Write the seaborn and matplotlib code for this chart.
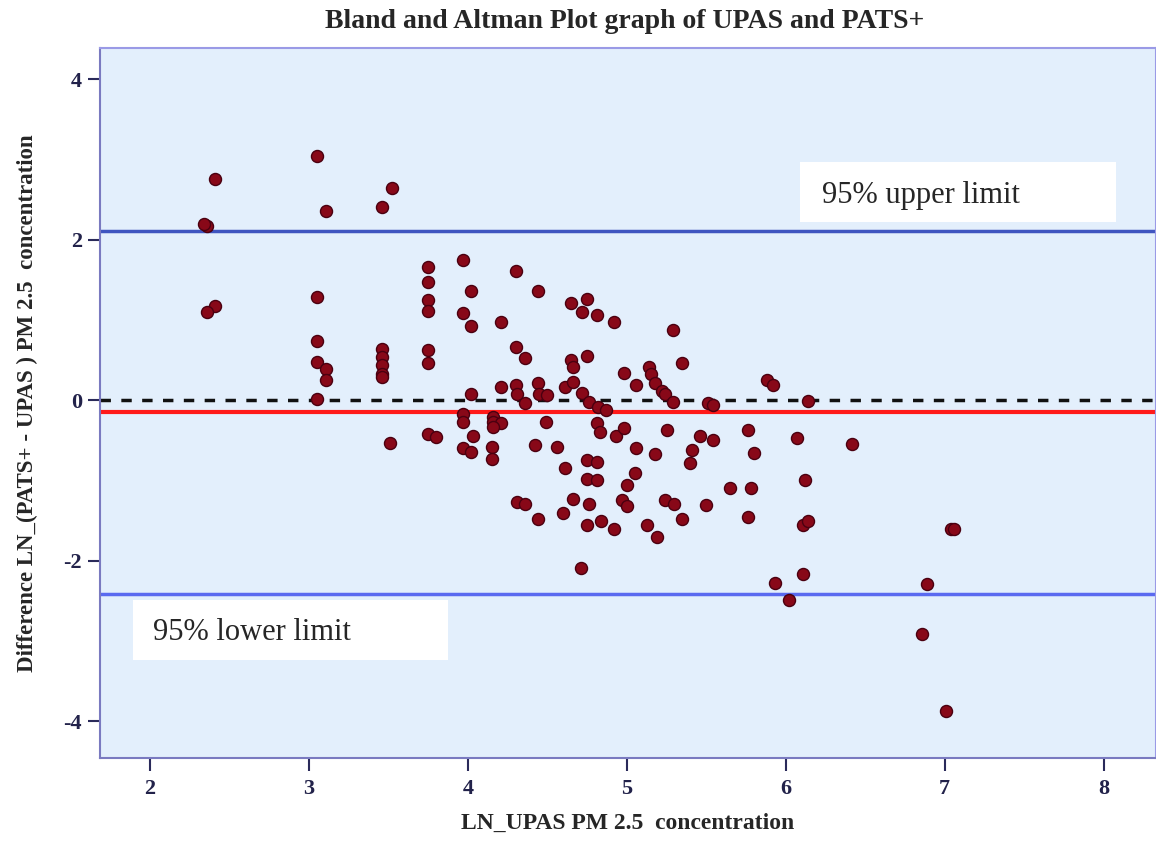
import numpy as np
import pandas as pd
import matplotlib
matplotlib.use('Agg')
import matplotlib.pyplot as plt
from matplotlib.patches import Rectangle
import seaborn as sns

# ---------------- data ----------------
ln_upas = [2.36, 2.34, 2.41, 3.05, 3.52, 3.46, 3.11, 3.75, 3.97, 3.75,
           3.75, 3.75, 4.02, 3.97, 4.02, 3.05, 2.41, 2.36, 3.05, 3.05,
           3.11, 3.11, 3.05, 3.46, 3.46, 3.46, 3.46, 3.46, 3.75, 3.75,
           4.02, 3.51, 3.75, 3.80, 3.97, 3.97, 4.03, 3.97, 4.02, 4.16,
           4.16, 4.21, 4.16, 4.15, 4.15, 4.21, 4.30, 4.44, 4.30, 4.36,
           4.21, 4.30, 4.31, 4.36, 4.44, 4.45, 4.50, 4.49, 4.42, 4.56,
           4.31, 4.36, 4.44, 4.61, 4.60, 4.66, 4.65, 4.75, 4.72, 4.81,
           4.92, 4.65, 4.66, 4.75, 4.61, 4.66, 4.72, 4.76, 4.82, 4.87,
           4.81, 4.83, 4.93, 4.98, 4.75, 4.81, 4.75, 4.81, 4.76, 4.75,
           4.84, 4.92, 4.71, 4.98, 5.06, 5.14, 5.15, 5.18, 5.22, 5.24,
           5.29, 5.29, 5.35, 5.51, 5.54, 5.88, 5.92, 5.25, 5.06, 5.18,
           5.05, 5.00, 4.97, 5.00, 5.13, 5.19, 5.24, 5.30, 5.35, 5.41,
           5.40, 5.46, 5.54, 5.50, 5.65, 5.76, 5.80, 5.78, 5.76, 5.93,
           6.14, 6.07, 6.42, 6.12, 6.11, 6.14, 7.04, 7.06, 6.11, 6.02,
           6.89, 6.86, 7.01]
diff = [2.17, 2.20, 2.76, 3.04, 2.65, 2.41, 2.36, 1.66, 1.75, 1.47,
        1.25, 1.11, 1.36, 1.09, 0.92, 1.29, 1.18, 1.10, 0.74, 0.48,
        0.39, 0.25, 0.01, 0.64, 0.54, 0.44, 0.33, 0.29, 0.62, 0.47,
        0.08, -0.53, -0.42, -0.46, -0.17, -0.27, -0.44, -0.60, -0.64, -0.21,
        -0.27, -0.29, -0.33, -0.58, -0.73, 0.98, 1.61, 1.36, 0.66, 0.53,
        0.17, 0.19, 0.08, -0.04, 0.21, 0.08, 0.06, -0.27, -0.56, -0.58,
        -1.27, -1.29, -1.48, -0.85, -1.41, -1.23, 1.21, 1.26, 1.10, 1.06,
        0.98, 0.50, 0.42, 0.55, 0.17, 0.23, 0.09, -0.02, -0.08, -0.12,
        -0.29, -0.39, -0.44, -0.34, -0.75, -0.77, -0.98, -0.99, -1.29, -1.55,
        -1.50, -1.61, -2.09, 0.34, 0.19, 0.42, 0.33, 0.21, 0.12, 0.08,
        -0.02, 0.87, 0.47, -0.04, -0.06, 0.25, 0.19, -0.37, -0.60, -0.67,
        -0.91, -1.06, -1.24, -1.32, -1.56, -1.70, -1.24, -1.29, -1.48, -0.62,
        -0.78, -0.44, -0.49, -1.30, -1.09, -0.37, -0.66, -1.09, -1.46, -2.28,
        -0.01, -0.47, -0.54, -1.00, -1.56, -1.50, -1.60, -1.60, -2.16, -2.49,
        -2.29, -2.92, -3.87]

mean_diff = -0.15
upper_limit = 2.11
lower_limit = -2.41
x_ticks = [2, 3, 4, 5, 6, 7, 8]
y_ticks = [-4, -2, 0, 2, 4]

df = pd.DataFrame({'LN_UPAS': ln_upas, 'Diff': diff})

sns.set_style('white')
plt.rcParams['font.family'] = ['Liberation Serif', 'DejaVu Serif']
plt.rcParams['axes.unicode_minus'] = False

fig = plt.figure(figsize=(11.56, 8.43), dpi=100)
ax = fig.add_axes([0.0865, 0.1008, 0.9135, 0.8422])
ax.set_facecolor('#e3effc')

ax.axhline(upper_limit, color='#3f55c0', lw=2.5, zorder=1)
ax.axhline(lower_limit, color='#5a6af0', lw=2.5, zorder=1)
ax.axhline(0, color='#111111', lw=2.5, ls=(0, (3, 3)), zorder=1)
ax.axhline(mean_diff, color='#ff1a1a', lw=3, zorder=1)

sns.scatterplot(data=df, x='LN_UPAS', y='Diff', ax=ax, s=75,
                color='#880818', edgecolor='#4a0010', linewidth=1.0, zorder=3)

ax.set_xlim(1.685, 8.33)
ax.set_ylim(-4.46, 4.39)
ax.set_xticks(x_ticks)
ax.set_yticks(y_ticks)
ax.tick_params(axis='both', direction='out', length=9, width=1.5,
               bottom=True, left=True,
               color='#2a2a5a', labelcolor='#22224a', labelsize=16, pad=4)
ax.tick_params(axis='x', pad=6)
for lab in ax.get_xticklabels() + ax.get_yticklabels():
    lab.set_fontweight('bold')
for sp in ax.spines.values():
    sp.set_color('#9a9ae6')
    sp.set_linewidth(1.5)
ax.spines['bottom'].set_color('#7a7ac0')
ax.spines['left'].set_color('#7a7ac0')

ax.set_xlabel('LN_UPAS PM 2.5  concentration', fontsize=17, fontweight='bold', labelpad=10)
ax.set_ylabel('Difference LN_(PATS+ - UPAS ) PM 2.5  concentration', fontsize=16.5,
              fontweight='bold', labelpad=18)
fig.text(0.54, 0.975, 'Bland and Altman Plot graph of UPAS and PATS+', ha='center',
         va='center', fontsize=20, fontweight='bold')

# white label boxes
W, H = 1156, 843
fig.patches.append(Rectangle((800 / W, 1 - 222 / H), 316 / W, 60 / H,
                             transform=fig.transFigure, facecolor='white',
                             edgecolor='none', zorder=5))
fig.patches.append(Rectangle((133 / W, 1 - 660 / H), 315 / W, 60 / H,
                             transform=fig.transFigure, facecolor='white',
                             edgecolor='none', zorder=5))
fig.text(822 / W, 1 - 195 / H, '95% upper limit', fontsize=22, va='center', ha='left', zorder=6)
fig.text(153 / W, 1 - 633 / H, '95% lower limit', fontsize=22, va='center', ha='left', zorder=6)

fig.savefig('out.png', dpi=100)
